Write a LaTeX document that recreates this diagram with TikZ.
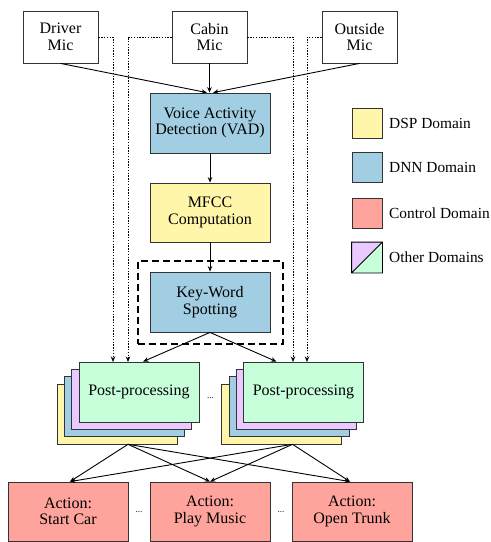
\documentclass[tikz,border=0pt]{standalone}
\usepackage{fontspec}
\setmainfont{Liberation Serif}
\usepackage{xcolor}
\usepackage{tikz}
\usetikzlibrary{arrows.meta}
\definecolor{dspc}{RGB}{255,246,170}
\definecolor{dnnc}{RGB}{161,206,226}
\definecolor{ctlc}{RGB}{255,164,156}
\definecolor{purc}{RGB}{233,201,255}
\definecolor{grnc}{RGB}{198,255,218}
\tikzset{
  box/.style={draw=black!80,line width=0.8pt,minimum width=120pt,minimum height=60pt,align=center,inner sep=1pt,font=\fontsize{16}{16.5}\selectfont},
  mic/.style={box,fill=white,minimum width=75pt,minimum height=52pt},
  lg/.style={draw=black!80,line width=0.8pt,minimum width=30pt,minimum height=30pt,inner sep=0pt},
  lgt/.style={anchor=west,inner sep=0pt,font=\fontsize{15.4}{16}\selectfont},
  arr/.style={line width=0.9pt,-{Stealth[length=5.5pt,width=4.5pt]}},
  dotarr/.style={arr,dash pattern=on 1.4pt off 1.4pt},
  frame/.style={draw,line width=2pt,dash pattern=on 7pt off 4pt,minimum width=145pt,minimum height=83pt},
  dd/.style={inner sep=0pt,font=\fontsize{9}{9}\selectfont}
}

\begin{document}
\begin{tikzpicture}[x=1pt,y=-1pt]
\useasboundingbox (0,0) rectangle (491,542);
\node[mic] (dmic) at (60.5,37) {Driver\\Mic};
\node[mic] (cmic) at (209.5,37) {Cabin\\Mic};
\node[mic] (omic) at (359.5,37) {Outside\\Mic};
\node[box,fill=dnnc] (vad) at (210,123) {Voice Activity\\Detection (VAD)};
\node[box,fill=dspc,minimum height=59pt] (mfcc) at (210,212.5) {MFCC\\Computation};
\node[frame] (kwf) at (210.5,302.5) {};
\node[box,fill=dnnc] (kws) at (210,302) {Key-Word\\Spotting};
\foreach \c/\k in {dspc/3,dnnc/2,purc/1} {
  \node[box,fill=\c] (ppa\k) at (139-7.3*\k,392+7.4*\k) {};
  \node[box,fill=\c] (ppb\k) at (303.5-7.3*\k,392+7.4*\k) {};
}
\node[box,fill=grnc] (ppa) at (139,392) {Post-processing};
\node[box,fill=grnc] (ppb) at (303.5,392) {Post-processing};
\node[dd] (dots0) at (210.5,398) {...};
\node[box,fill=ctlc,minimum height=59pt] (act1) at (68,511.5) {Action:\\Start Car};
\node[box,fill=ctlc,minimum height=59pt] (act2) at (210,511.5) {Action:\\Play Music};
\node[box,fill=ctlc,minimum height=59pt] (act3) at (352,511.5) {Action:\\Open Trunk};
\node[dd] (dots1) at (139,512) {...};
\node[dd] (dots2) at (281,512) {...};
\coordinate (sa) at (128,444.3); \coordinate (sb) at (292.5,444.3);
\coordinate (da1) at (113,362); \coordinate (da2) at (128,362);
\coordinate (db1) at (293,362); \coordinate (db2) at (307,362);
\draw[arr] (dmic.south) -- ([xshift=-3pt]vad.north);
\draw[arr] (cmic.south) -- (cmic.south |- vad.north);
\draw[arr] (omic.south) -- ([xshift=3pt]vad.north);
\draw[arr] (vad) -- (mfcc);
\draw[arr] (mfcc) -- (kws);
\draw[arr] (kws.south) -- ([xshift=4pt]ppa.north);
\draw[arr] (kws.south) -- ([xshift=-27pt]ppb.north);
\draw[dotarr] (dmic.east) -| (da1); \draw[dotarr] (cmic.west) -| (da2);
\draw[dotarr] (cmic.east) -| (db1); \draw[dotarr] (omic.west) -| (db2);
\foreach \s in {sa,sb} \foreach \t/\o in {act1/2pt,act2/0pt,act3/-2pt} \draw[arr] (\s) -- ([xshift=\o]\t.north);
\node[lg,fill=dspc] (lg1) at (367,123) {}; \node[lgt] (lt1) at (389,123) {DSP Domain};
\node[lg,fill=dnnc] (lg2) at (367,167.5) {}; \node[lgt] (lt2) at (389,167.5) {DNN Domain};
\node[lg,fill=ctlc] (lg3) at (367,213) {}; \node[lgt] (lt3) at (389,213) {Control Domain};
\node[lg] (lg4) at (367,257.5) {}; \node[lgt] (lt4) at (389,257.5) {Other Domains};
\fill[purc] (lg4.south west) -- (lg4.north west) -- (lg4.north east) -- cycle;
\fill[grnc] (lg4.south west) -- (lg4.south east) -- (lg4.north east) -- cycle;
\draw[line width=0.8pt] (lg4.south west) rectangle (lg4.north east) (lg4.south west) -- (lg4.north east);
\end{tikzpicture}
\end{document}
